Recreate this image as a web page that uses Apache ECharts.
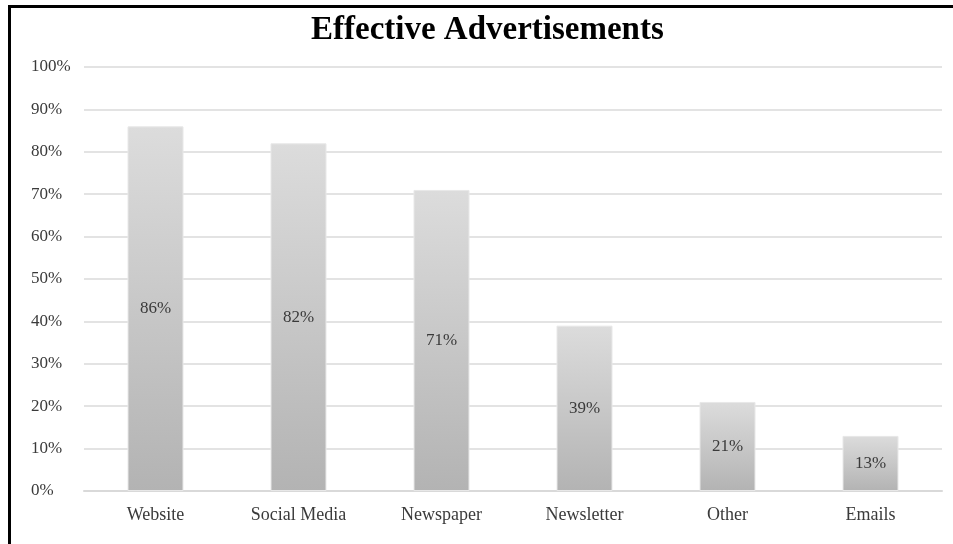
<!DOCTYPE html>
<html>
<head>
<meta charset="utf-8">
<script src="https://cdn.jsdelivr.net/npm/echarts@6/dist/echarts.min.js"></script>
<style>
  html, body { margin: 0; padding: 0; background: #fff; }
  #main { width: 953px; height: 544px; }
  #frame {
    position: absolute; left: 8px; top: 5px; width: 960px; height: 560px;
    border-left: 3px solid #000; border-top: 3px solid #000;
    pointer-events: none;
  }
</style>
</head>
<body>
<div id="main"></div>
<div id="frame"></div>
<script>
var categories = ['Website', 'Social Media', 'Newspaper', 'Newsletter', 'Other', 'Emails']
var values = [86, 82, 71, 39, 21, 13] // percent
var yTicks = [0, 10, 20, 30, 40, 50, 60, 70, 80, 90, 100]

var font = '"Liberation Serif", "Times New Roman", serif'
var chart = echarts.init(document.getElementById('main'))

chart.setOption({
  animation: false,
  title: {
    text: 'Effective Advertisements',
    left: 306,
    top: 9,
    textStyle: { fontFamily: font, fontSize: 33, fontWeight: 'bold', color: '#000' }
  },
  grid: { left: 84, right: 11, top: 67, bottom: 53 },
  xAxis: {
    type: 'category',
    data: categories,
    axisLine: { lineStyle: { color: '#d9d9d9', width: 2 } },
    axisTick: { show: false },
    axisLabel: { fontFamily: font, fontSize: 18, color: '#3a3a3a', margin: 15 }
  },
  yAxis: {
    type: 'value',
    min: yTicks[0],
    max: yTicks[yTicks.length - 1],
    interval: 10,
    axisLine: { show: false },
    axisTick: { show: false },
    splitLine: { lineStyle: { color: '#e3e3e3', width: 2 } },
    axisLabel: {
      fontFamily: font, fontSize: 17, color: '#3a3a3a',
      align: 'left', margin: 53,
      formatter: '{value}%'
    }
  },
  series: [{
    type: 'bar',
    data: values,
    barWidth: 56,
    itemStyle: {
      borderColor: '#e8e8e8',
      borderWidth: 1,
      color: new echarts.graphic.LinearGradient(0, 0, 0, 1, [
        { offset: 0, color: '#dcdcdc' },
        { offset: 1, color: '#b3b3b3' }
      ])
    },
    label: {
      show: true,
      position: 'inside',
      formatter: '{c}%',
      fontFamily: font,
      fontSize: 17,
      color: '#3a3a3a'
    }
  }]
})
</script>
</body>
</html>
